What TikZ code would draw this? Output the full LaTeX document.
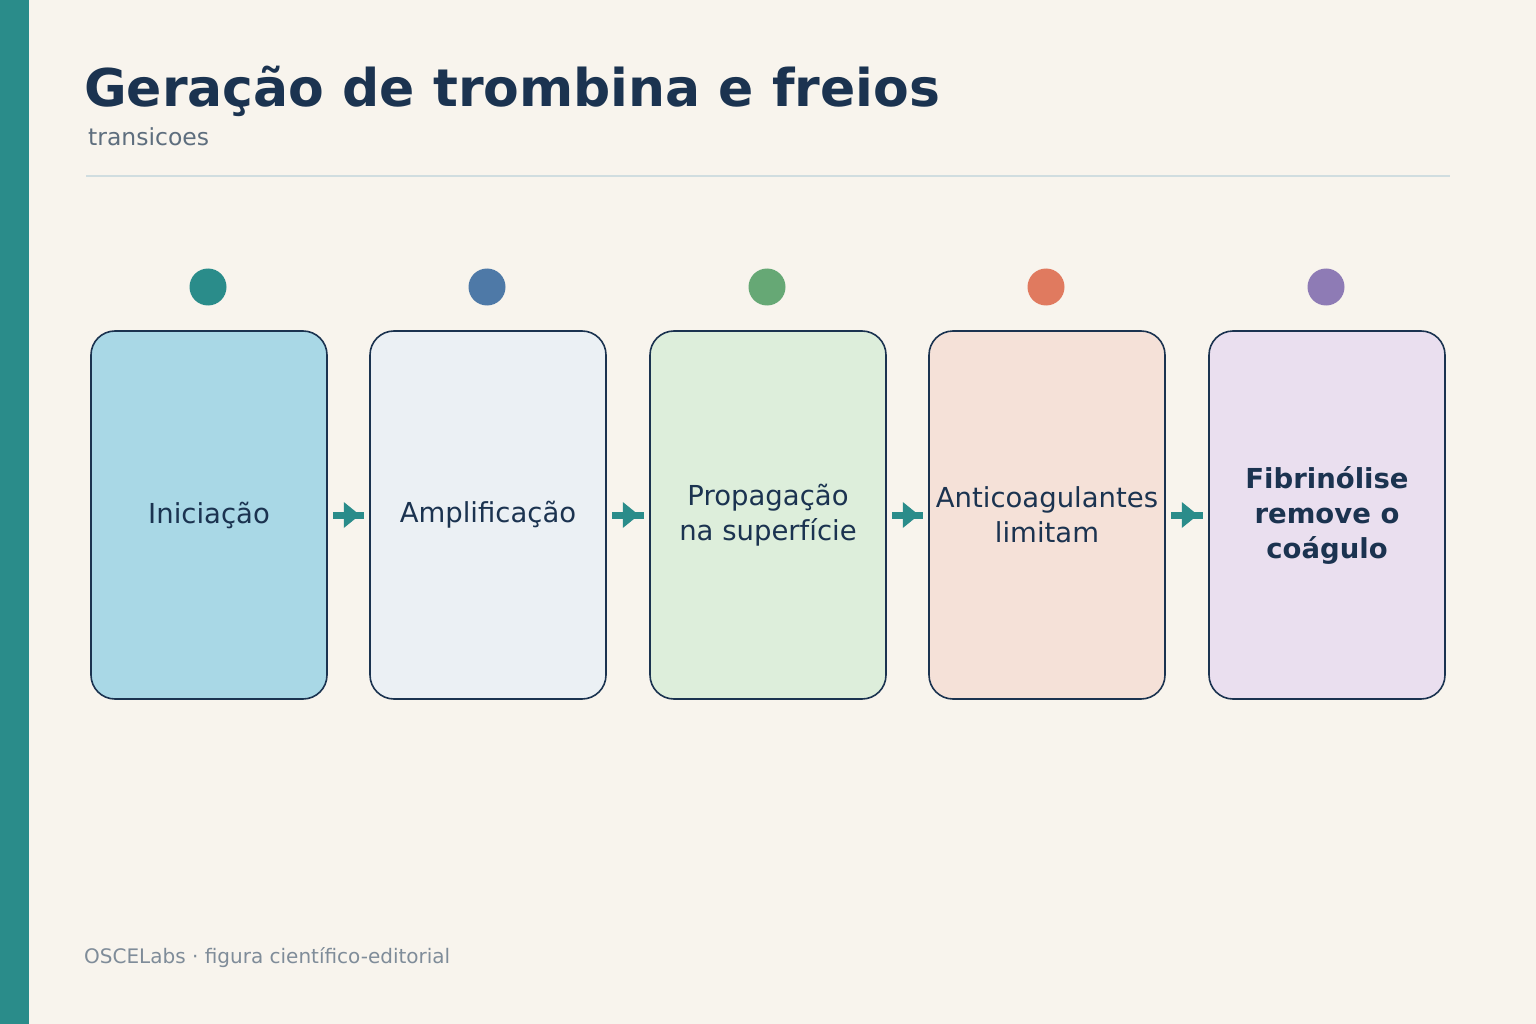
\documentclass[tikz,border=0pt]{standalone}
\usetikzlibrary{calc}
\usepackage{fontspec}
\setmainfont{DejaVu Sans}
\definecolor{bg}{HTML}{F8F4ED}
\definecolor{teal}{HTML}{2A8C8A}
\definecolor{ink}{HTML}{1B3350}
\definecolor{sub}{HTML}{5E6E7E}
\definecolor{foot}{HTML}{7F8C99}
\definecolor{rule}{HTML}{D0DDE0}
\definecolor{fA}{HTML}{A9D8E6}\definecolor{fB}{HTML}{EBF0F4}\definecolor{fC}{HTML}{DDEEDB}
\definecolor{fD}{HTML}{F5E1D8}\definecolor{fE}{HTML}{EADFEF}
\definecolor{cA}{HTML}{2A8C8A}\definecolor{cB}{HTML}{4E79A7}\definecolor{cC}{HTML}{66A875}
\definecolor{cD}{HTML}{E07A5F}\definecolor{cE}{HTML}{8E7BB5}
\begin{document}
\begin{tikzpicture}[x=1pt,y=-1pt,
 box/.style={draw=ink,line width=1.6pt,rounded corners=24pt,minimum width=236pt,minimum height=368pt,text=ink,font=\fontsize{27.5}{35}\selectfont,align=center,inner sep=0pt},
 dot/.style={circle,minimum size=37pt,inner sep=0pt}]
\useasboundingbox (0,0) rectangle (1536,1024);
\fill[bg] (0,0) rectangle (1536,1024);
\fill[teal] (0,0) rectangle (29,1024);
\node[anchor=base west,text=ink,font=\fontsize{52}{60}\selectfont\bfseries,inner sep=0] (title) at (84,107) {Geração de trombina e freios};
\node[anchor=base west,text=sub,font=\fontsize{23.5}{26}\selectfont,inner sep=0] (subt) at (88,146) {transicoes};
\draw[rule,line width=2pt] (86,176) -- (1450,176);
\node[anchor=base west,text=foot,font=\fontsize{20}{24}\selectfont,inner sep=0] (ft) at (84,963) {OSCELabs · figura científico-editorial};
\foreach \n/\x/\f/\c/\t in {1/209/fA/cA/{Iniciação},2/488/fB/cB/{Amplificação},3/768/fC/cC/{Propagação\\na superfície},4/1047/fD/cD/{Anticoagulantes\\limitam},5/1327/fE/cE/{\bfseries Fibrinólise\\\bfseries remove o\\\bfseries coágulo}}{
 \node[box,fill=\f] (b\n) at (\x,515) {\t};
 \node[dot,fill=\c] (d\n) at (\x-1,287) {};
}
\foreach \a/\b in {1/2,2/3,3/4,4/5}{
 \fill[teal] ($(b\a.east)+(5,-3.5)$) rectangle ($(b\b.west)+(-5,3.5)$);
 \fill[teal] ($(b\a.east)+(16,-13)$) -- ($(b\a.east)+(32,0)$) -- ($(b\a.east)+(16,13)$) -- cycle;
}
\end{tikzpicture}
\end{document}
